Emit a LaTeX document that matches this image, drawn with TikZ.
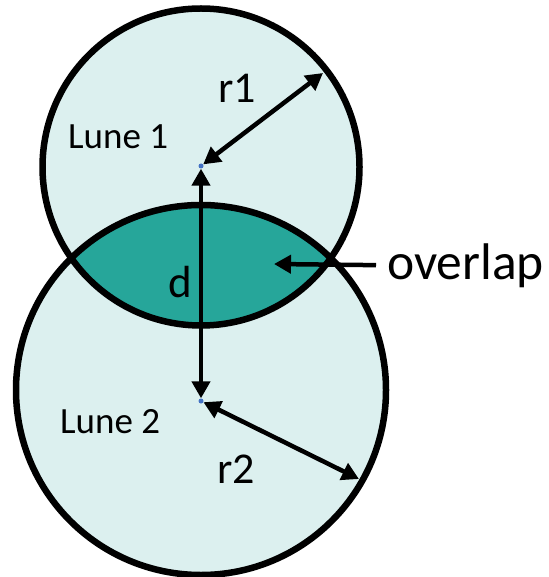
\documentclass[tikz,border=0pt]{standalone}
\usepackage{fontspec}
\setmainfont{Carlito}
\usetikzlibrary{arrows.meta}
\definecolor{LuneFill}{HTML}{DCF0EF}
\definecolor{OverlapFill}{HTML}{26A69A}
\definecolor{CentreDot}{HTML}{4472C4}
\tikzset{
  rim/.style={draw=black, line width=6.5pt},
  centre/.style={circle, fill=CentreDot, inner sep=0pt, minimum size=5pt},
  dim/.style={{Triangle[length=17pt,width=18pt]}-{Triangle[length=17pt,width=18pt]},
    line width=4.5pt},
  pointer/.style={-{Triangle[length=17pt,width=18pt]}, line width=4.5pt},
  lbl/.style={inner sep=0pt, anchor=base west, font=\fontsize{37}{40}\selectfont},
  biglbl/.style={lbl, font=\fontsize{45}{50}\selectfont},
}

\begin{document}
\begin{tikzpicture}[x=1pt, y=-1pt]
  \useasboundingbox (0,0) rectangle (548,577);
  \coordinate (o1) at (201,167);
  \coordinate (o2) at (201,390);
  \fill[LuneFill] (o1) circle[radius=158.5];
  \fill[LuneFill] (o2) circle[radius=185];
  \begin{scope}
    \clip (o1) circle[radius=158.5];
    \fill[OverlapFill] (o2) circle[radius=185];
  \end{scope}
  \draw[rim] (o1) circle[radius=158.5];
  \draw[rim] (o2) circle[radius=185];

  \node[centre] (c1) at (201,166) {};
  \node[centre] (c2) at (201,401) {};
  \coordinate (e1) at (323,73);
  \coordinate (e2) at (359,479);
  \coordinate (ov) at (274,264);

  \node[lbl] (lune1) at (68,149) {Lune 1};
  \node[lbl] (lune2) at (60,433) {Lune 2};
  \node[biglbl, font=\fontsize{44}{48}\selectfont] (r1) at (218,103) {r1};
  \node[biglbl, font=\fontsize{44}{48}\selectfont] (r2) at (217,483) {r2};
  \node[biglbl] (d) at (168,297) {d};
  \node[biglbl, font=\fontsize{51.5}{56}\selectfont] (olab) at (387,279) {overlap};

  \draw[dim] (c1) -- (e1);
  \draw[dim] (c1) -- (c2);
  \draw[dim] (c2) -- (e2);
  \draw[pointer, shorten <=11pt] (olab.west) -- (ov);
\end{tikzpicture}
\end{document}
